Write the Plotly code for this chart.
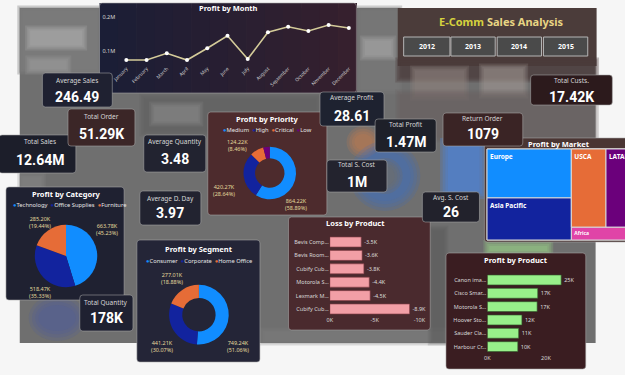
import plotly.graph_objects as go

# ---------------- data ----------------
months = ["January", "February", "March", "April", "May", "June", "July",
          "August", "September", "October", "November", "December"]
month_profit_m = [0.0735, 0.0735, 0.0932, 0.0735, 0.108, 0.145, 0.0765,
                  0.155, 0.1715, 0.1588, 0.1765, 0.1676]
month_yticks = [0.1, 0.2]
month_yticklabels = ["0.1M", "0.2M"]

priority_labels = ["Medium", "High", "Critical", "Low"]
priority_profit_k = [864.22, 420.27, 124.22, 58.75]

category_labels = ["Technology", "Office Supplies", "Furniture"]
category_profit_k = [663.78, 518.47, 285.20]

segment_labels = ["Consumer", "Corporate", "Home Office"]
segment_profit_k = [749.24, 441.21, 277.01]

market_labels = ["Europe", "Asia Pacific", "USCA", "LATAM", "Africa"]
market_profit_k = [449, 386, 294, 238, 88]

loss_products = ["Bevis Comp...", "Bevis Room...", "Cubify Cub...",
                 "Motorola S...", "Lexmark M...", "Cubify Cub..."]
loss_values_k = [-3.5, -3.6, -3.8, -4.4, -4.5, -8.9]
loss_ticks = [0, -5, -10]
loss_ticklabels = ["0K", "-5K", "-10K"]

top_products = ["Canon ima...", "Cisco Smar...", "Motorola S...",
                "Hoover Sto...", "Sauder Cla...", "Harbour Cr..."]
top_values_k = [25.2, 17.2, 17.0, 11.8, 10.7, 10.4]
top_ticks = [0, 20]
top_ticklabels = ["0K", "20K"]

years = ["2012", "2013", "2014", "2015"]

kpi_titles = ["Average Sales", "Total Sales", "Total Order", "Average Quantity",
              "Average D. Day", "Average Profit", "Total Profit", "Return Order",
              "Total S. Cost", "Avg. S. Cost", "Total Quantity", "Total Custs."]
kpi_values = ["246.49", "12.64M", "51.29K", "3.48", "3.97", "28.61", "1.47M",
              "1079", "1M", "26", "178K", "17.42K"]

# ---------------- styling / layout ----------------
W, H = 640, 375
PBI = ["#118DFF", "#12239E", "#E66C37", "#6B007B", "#E044A7"]
NAVY = "#1f2131"
LABEL_COL = "#e2d89c"
TXT = "Noto Sans"
NUM = "Roboto"


def fx(px):
    return px / W


def fy(py):
    return 1 - py / H


shapes = []
annotations = []


def rpath(x0, y0, x1, y1, r=3):
    rx, ry = r / W, r / H
    X0, X1, Yt, Yb = fx(x0), fx(x1), fy(y0), fy(y1)
    return (f"M {X0+rx},{Yt} L {X1-rx},{Yt} Q {X1},{Yt} {X1},{Yt-ry} "
            f"L {X1},{Yb+ry} Q {X1},{Yb} {X1-rx},{Yb} L {X0+rx},{Yb} "
            f"Q {X0},{Yb} {X0},{Yb+ry} L {X0},{Yt-ry} Q {X0},{Yt} {X0+rx},{Yt} Z")


def card(x0, y0, x1, y1, fill, border="rgba(170,170,170,0.55)", r=3):
    shapes.append(dict(type="path", path=rpath(x0, y0, x1, y1, r), xref="paper", yref="paper",
                       fillcolor=fill, line=dict(color=border, width=1), layer="below"))


def box(x0, y0, x1, y1, fill, opacity=1.0, kind="rect", line=None):
    shapes.append(dict(type=kind, x0=fx(x0), x1=fx(x1), y0=fy(y1), y1=fy(y0), xref="paper",
                       yref="paper", fillcolor=fill, opacity=opacity,
                       line=dict(width=0) if line is None else line, layer="below"))


def blob(x0, y0, x1, y1, fill, opacity, kind="rect", steps=4, spread=5):
    # soft-edged patch: stacked, progressively inset shapes
    for i in range(steps):
        d = spread * (steps - 1 - i) / (steps - 1) - spread / 2
        box(x0 - d, y0 - d, x1 + d, y1 + d, fill, opacity / steps * 1.6, kind)


def text(px, py, s, size=7, color="white", family=TXT, anchor="center", bold=False):
    annotations.append(dict(x=fx(px), y=fy(py), xref="paper", yref="paper", text=s,
                            showarrow=False, xanchor=anchor, yanchor="middle",
                            font=dict(size=size, color=color, family=family,
                                      weight="bold" if bold else "normal")))


# ---- blurred background ----
box(16, 8, 601, 343, "#6f6f6f")
blob(16, 8, 97, 72, "#7d7d7d", 0.9)
blob(24, 28, 82, 48, "#b0b0b0", 0.6)
blob(24, 58, 66, 72, "#a0a0a0", 0.5)
blob(16, 175, 40, 190, "#858585", 0.6)
blob(360, 8, 402, 92, "#7a7a7a", 0.8)
blob(364, 38, 396, 58, "#b0b0b0", 0.5)
box(400, 8, 602, 66, "#4b3c3a")
blob(400, 60, 602, 80, "#4b3c3a", 0.8)
blob(415, 68, 470, 98, "#8d807e", 0.6)
blob(485, 66, 530, 96, "#a39a98", 0.5)
blob(400, 92, 602, 140, "#6a605e", 0.5)
blob(140, 96, 320, 134, "#5f5f5f", 0.5)
blob(150, 104, 200, 124, "#9a9a9a", 0.35)
blob(352, 130, 378, 154, "#cf7c4a", 0.5, kind="circle", spread=8)
blob(356, 146, 418, 206, "#3d6cc4", 0.5, kind="circle", spread=10)
blob(373, 162, 401, 190, "#6d6d6d", 0.8, kind="circle", spread=8)
blob(447, 142, 487, 195, "#4b86df", 0.7, spread=8)
blob(490, 243, 555, 254, "#9ee08e", 0.5, spread=6)
blob(30, 300, 78, 336, "#4a5aa0", 0.45, kind="circle", spread=10)
blob(262, 330, 450, 343, "#7f7f7f", 0.6)
blob(433, 228, 449, 343, "#5c5c5c", 0.5)

# ---- chart cards ----
gx0, gx1 = 97, 358
left_rgb, right_rgb = (27, 30, 54), (54, 32, 46)
n = 14
for i in range(n):
    t = i / (n - 1)
    c = tuple(int(left_rgb[k] + (right_rgb[k] - left_rgb[k]) * t) for k in range(3))
    xa = gx0 + (gx1 - gx0) * i / n
    xb = gx0 + (gx1 - gx0) * (i + 1) / n + 0.6
    box(xa, 3, xb, 93, "rgb(%d,%d,%d)" % c)
card(97, 3, 358, 93, "rgba(0,0,0,0)")

card(207, 112, 328, 215, "#4d2b2d")
card(488, 138, 665, 242, "#4a3533")
card(2, 187, 122, 300, NAVY)
card(135, 240, 260, 362, "#242537")
card(289, 217, 433, 330, "#4a2a2e")
card(449, 253, 591, 369, "#3a1d21")

# ---- KPI cards ----
kpi_layout = {
    "Average Sales": (39, 73, 110, 107, NAVY, 80, 97),
    "Total Sales": (-5, 135, 73, 173, "#1c1e2a", 141, 160),
    "Total Order": (65, 109, 133, 146, "#3b2627", 116, 134),
    "Average Quantity": (142, 135, 205, 172, "#222330", 141, 159),
    "Average D. Day": (138, 191, 200, 225, "#222330", 198, 213),
    "Average Profit": (321, 92, 386, 126, "#1e2230", 98, 116),
    "Total Profit": (377, 119, 439, 152, "#1e2029", 125, 142),
    "Return Order": (446, 113, 527, 146, "#3a2425", 118, 134),
    "Total S. Cost": (328, 160, 389, 192, "#23232e", 165, 182),
    "Avg. S. Cost": (425, 192, 483, 222, "#22222c", 197, 212),
    "Total Quantity": (77, 295, 131, 331, "#1f2131", 302, 318),
    "Total Custs.": (535, 75, 618, 105, "#2c1a1c", 81, 97),
}
for t_, v_ in zip(kpi_titles, kpi_values):
    x0, y0, x1, y1, fill, ty, vy = kpi_layout[t_]
    card(x0, y0, x1, y1, fill)
    cx = (max(x0, 0) + x1) / 2
    text(cx, ty, t_, size=6.5, color="#d6d6d6")
    text(cx, vy, v_, size=14, color="white", family=NUM, bold=True)

# ---- header ----
text(505, 21, "<span style='color:#d6d23e'>E-Comm</span> <span style='color:#e8d583'>Sales Analysis</span>",
     size=11, family=TXT, bold=True)
year_boxes = [(406, 453), (454, 499), (501, 546), (548, 593)]
for yr, (a, b) in zip(years, year_boxes):
    box(a, 37, b, 56, "#4a4a4a", line=dict(color="#b5b5b5", width=1))
    text((a + b) / 2, 46.5, yr, size=7, color="white", bold=True)

# ---- chart titles ----
text(228, 8, "Profit by Month", size=7.5, bold=True)
text(268, 119, "Profit by Priority", size=7.5, bold=True)
text(63, 194, "Profit by Category", size=7.5, bold=True)
text(198, 249, "Profit by Segment", size=7.5, bold=True)
text(357, 223, "Loss by Product", size=7.5, bold=True)
text(520, 260, "Profit by Product", size=7.5, bold=True)
text(564, 143.5, "Profit by Market", size=7.5, bold=True)


def legend(px, py, labels, colors, size=5.8):
    parts = [f"<span style='color:{c}'>●</span>{l}" for l, c in zip(labels, colors)]
    text(px, py, "  ".join(parts), size=size, color="#e6e6e6", anchor="left")


legend(220, 130, priority_labels, PBI[:4])
legend(7, 205, category_labels, PBI[:3])
legend(142, 261, segment_labels, PBI[:3])


def pie_labels(values, positions):
    tot = sum(values)
    for v, pos in zip(values, positions):
        if pos is None:
            continue
        text(pos[0], pos[1], f"{v:.2f}K<br>({v / tot * 100:.2f}%)", size=5.5, color=LABEL_COL)


pie_labels(priority_profit_k, [(297, 204), (223, 190), (237, 145), None])
pie_labels(category_profit_k, [(105, 230), (37, 292), (37, 222)])
pie_labels(segment_profit_k, [(238, 346), (161, 346), (171, 278)])

fig = go.Figure()


def add_pie(labels, values, colors, cx, cy, r, hole):
    fig.add_trace(go.Pie(labels=labels, values=values, hole=hole, sort=False,
                         direction="clockwise", rotation=0,
                         marker=dict(colors=colors, line=dict(width=0)),
                         textinfo="none", showlegend=False, hoverinfo="skip",
                         domain=dict(x=[fx(cx - r), fx(cx + r)], y=[fy(cy + r), fy(cy - r)])))


add_pie(priority_labels, priority_profit_k, PBI[:4], 270, 173, 26.7, 0.56)
add_pie(category_labels, category_profit_k, PBI[:3], 63, 256, 31.7, 0)
add_pie(segment_labels, segment_profit_k, PBI[:3], 198, 314.7, 30.3, 0.56)

# ---- treemap ----
tm_ids = ["root", "L", "R", "RT"] + market_labels
tm_parents = ["", "root", "root", "R", "L", "L", "RT", "RT", "R"]
tm_values = [0, 0, 0, 0] + market_profit_k
tm_colors = ["rgba(0,0,0,0)"] * 4 + PBI[:2] + [PBI[2], PBI[3], PBI[4]]
tm_text = ["", "", "", ""] + market_labels
fig.add_trace(go.Treemap(ids=tm_ids, labels=tm_ids, parents=tm_parents, values=tm_values,
                         branchvalues="remainder", sort=True,
                         marker=dict(colors=tm_colors, line=dict(width=1, color="#d8d8d8"),
                                     pad=dict(t=0, l=0, r=0, b=0)),
                         tiling=dict(packing="slice-dice", pad=0),
                         pathbar=dict(visible=False),
                         text=tm_text, texttemplate="%{text}", textposition="top left",
                         textfont=dict(size=6.5, color="white", family=TXT, weight="bold"),
                         root=dict(color="rgba(0,0,0,0)"), hoverinfo="skip",
                         domain=dict(x=[fx(490.7), 1], y=[fy(240), fy(149)])))

# ---- line ----
fig.add_trace(go.Scatter(x=months, y=month_profit_m, mode="lines+markers",
                         line=dict(color="#d4cb99", width=1.6),
                         marker=dict(color="white", size=4),
                         xaxis="x", yaxis="y", showlegend=False, hoverinfo="skip"))

# ---- bars ----
fig.add_trace(go.Bar(y=list(range(len(loss_products))), x=loss_values_k, orientation="h",
                     marker=dict(color="#F29FA6", line=dict(color="#8a4048", width=0.6)),
                     text=[f"{v:.1f}K" for v in loss_values_k], textposition="outside",
                     textfont=dict(size=5.5, color="#dddddd", family=TXT), cliponaxis=False,
                     width=0.74, xaxis="x2", yaxis="y2", showlegend=False, hoverinfo="skip"))
fig.add_trace(go.Bar(y=list(range(len(top_products))), x=top_values_k, orientation="h",
                     marker=dict(color="#98F08A", line=dict(color="#2f5a2a", width=0.6)),
                     text=[f"{round(v)}K" for v in top_values_k], textposition="outside",
                     textfont=dict(size=5.5, color="#dddddd", family=TXT), cliponaxis=False,
                     width=0.74, xaxis="x3", yaxis="y3", showlegend=False, hoverinfo="skip"))

tickf = dict(size=5.5, color="#d8d8d8", family=TXT)
noline = dict(showgrid=False, zeroline=False, showline=False, ticks="")
fig.update_layout(
    width=W, height=H, autosize=False,
    margin=dict(l=0, r=0, t=0, b=0),
    paper_bgcolor="#f6f6f6", plot_bgcolor="rgba(0,0,0,0)",
    shapes=shapes, annotations=annotations, showlegend=False,
    xaxis=dict(domain=[fx(114), fx(360.6)], range=[-0.5, 11.5], type="category",
               tickangle=-45, tickfont=dict(size=4.8, color="#cfcfcf", family=TXT),
               anchor="y", **noline),
    yaxis=dict(domain=[fy(64), fy(10)], range=[0.0618, 0.2206], tickvals=month_yticks,
               ticktext=month_yticklabels, tickfont=tickf, anchor="x", **noline),
    xaxis2=dict(domain=[fx(331), fx(422)], range=[0, -10], tickvals=loss_ticks,
                ticktext=loss_ticklabels, tickfont=tickf, anchor="y2", **noline),
    yaxis2=dict(domain=[fy(315.7), fy(235.3)], range=[5.5, -0.5],
                tickvals=list(range(len(loss_products))), ticktext=loss_products,
                tickfont=tickf, anchor="x2", **noline),
    xaxis3=dict(domain=[fx(491), fx(580.3)], range=[0, 30], tickvals=top_ticks,
                ticktext=top_ticklabels, tickfont=tickf, anchor="y3", **noline),
    yaxis3=dict(domain=[fy(353.3), fy(273.3)], range=[5.5, -0.5],
                tickvals=list(range(len(top_products))), ticktext=top_products,
                tickfont=tickf, anchor="x3", **noline),
)

fig.write_html("out.html", config={"displayModeBar": False, "staticPlot": True}, post_script=(
    "document.documentElement.style.overflow='hidden';"
    "document.body.style.overflow='hidden';document.body.style.margin='0';"))
